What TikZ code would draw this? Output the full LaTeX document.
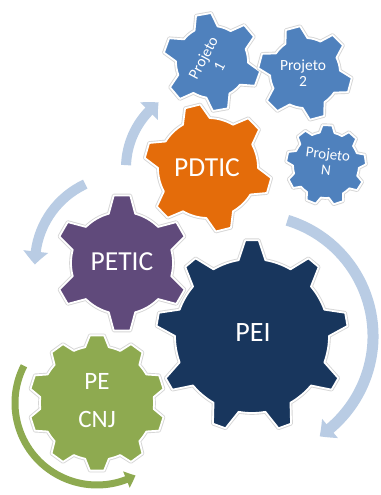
\documentclass[tikz,border=0pt]{standalone}
\usepackage{fontspec}
\setmainfont{Carlito}
\usetikzlibrary{arrows.meta,bending}
\definecolor{gblue}{RGB}{79,129,189}
\definecolor{gnavy}{RGB}{24,54,93}
\definecolor{gpurple}{RGB}{96,74,123}
\definecolor{gorange}{RGB}{228,108,10}
\definecolor{ggreen}{RGB}{142,170,80}
\definecolor{arrowblue}{RGB}{185,204,228}
\newcommand\gearshape[8]{%
  \begin{scope}[shift={(#1)}]
  \path[gearbody, fill=#8] ({#5-#6}:#3)
    \foreach \i in {1,...,#2}{
      -- ({#5+(\i-1)*360/#2-#7}:#4) -- ({#5+(\i-1)*360/#2+#7}:#4)
      -- ({#5+(\i-1)*360/#2+#6}:#3)
      arc[start angle={#5+(\i-1)*360/#2+#6}, end angle={#5+\i*360/#2-#6}, radius=#3]
    } -- cycle;
  \end{scope}}
\tikzset{
  gearbody/.style={draw=white, line width=1.8pt, line join=round,
    preaction={draw=black!16, line width=3.6pt, line join=round}},
  gtext/.style={text=white, inner sep=0pt, align=center},
  bluearc/.style={draw=arrowblue, line width=10pt,
    -{Triangle[width=24pt,length=13pt,bend]}},
  greenarc/.style={draw=ggreen, line width=7pt,
    -{Triangle[width=17pt,length=10pt,bend]}}
}
\begin{document}
\begin{tikzpicture}[x=1pt,y=1pt]
\useasboundingbox[fill=white] (0,0) rectangle (380,495);
% gear centres
\coordinate (cP1) at (212,433);
\coordinate (cP2) at (305,422);
\coordinate (cPN) at (326,330);
\coordinate (cPDTIC) at (208,327);
\coordinate (cPETIC) at (122,232);
\coordinate (cPEI) at (252,159);
\coordinate (cPECNJ) at (97,92);
% circular arrows
\draw[bluearc] ([shift={(178:82)}]cPDTIC) arc[start angle=178, end angle=127, radius=82];
\draw[bluearc] ([shift={(115:87)}]cPETIC) arc[start angle=115, end angle=181, radius=87];
\draw[bluearc, line width=11pt] ([shift={(73:121)}]cPEI) arc[start angle=73, end angle=-56, radius=121];
\draw[greenarc] ([shift={(153:82)}]cPECNJ) arc[start angle=153, end angle=298, radius=82];
% gears
\gearshape{cP1}{6}{36}{49}{100}{19}{9}{gblue}
\gearshape{cP2}{6}{35}{47}{105}{19}{9}{gblue}
\gearshape{cPN}{9}{33}{40}{88}{13}{7}{gblue}
\gearshape{cPDTIC}{6}{50}{64}{104}{16}{7}{gorange}
\gearshape{cPETIC}{6}{51}{68}{90}{15}{7}{gpurple}
\gearshape{cPECNJ}{10}{57}{68}{90}{12}{6}{ggreen}
\gearshape{cPEI}{9}{77}{96}{90}{10}{4}{gnavy}
% labels
\node[gtext, font=\fontsize{15.5pt}{18pt}\selectfont, rotate=62] (tP1) at (211,433) {Projeto\\1};
\node[gtext, font=\fontsize{15.5pt}{16pt}\selectfont] (tP2) at (303,422) {Projeto\\2};
\node[gtext, font=\fontsize{15pt}{16pt}\selectfont, rotate=-7] (tPN) at (327,333) {Projeto\\N};
\node[gtext, font=\fontsize{27.5pt}{30pt}\selectfont] (tPDTIC) at (207,327) {PDTIC};
\node[gtext, font=\fontsize{27.5pt}{30pt}\selectfont] (tPETIC) at (122,233) {PETIC};
\node[gtext, font=\fontsize{28pt}{30pt}\selectfont] (tPEI) at (253,162) {PEI};
\node[gtext, font=\fontsize{25pt}{38pt}\selectfont] (tPECNJ) at (97,94) {PE\\CNJ};
\end{tikzpicture}
\end{document}
